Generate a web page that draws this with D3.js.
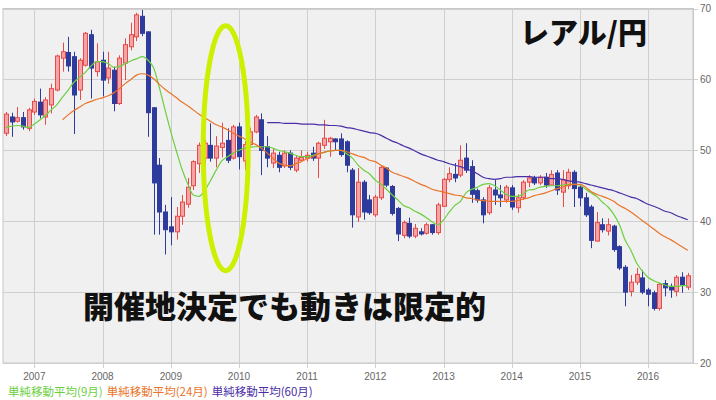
<!DOCTYPE html>
<html><head><meta charset="utf-8">
<script src="https://cdn.jsdelivr.net/npm/d3@7"></script>
<style>body{margin:0;background:#fff}svg{display:block}</style>
</head><body><svg id="c" width="716" height="400"></svg>
<script>
const months = [
"2006-08","2006-09","2006-10","2006-11","2006-12",
"2007-01","2007-02","2007-03","2007-04","2007-05","2007-06","2007-07","2007-08","2007-09","2007-10","2007-11","2007-12",
"2008-01","2008-02","2008-03","2008-04","2008-05","2008-06","2008-07","2008-08","2008-09","2008-10","2008-11","2008-12",
"2009-01","2009-02","2009-03","2009-04","2009-05","2009-06","2009-07","2009-08","2009-09","2009-10","2009-11","2009-12",
"2010-01","2010-02","2010-03","2010-04","2010-05","2010-06","2010-07","2010-08","2010-09","2010-10","2010-11","2010-12",
"2011-01","2011-02","2011-03","2011-04","2011-05","2011-06","2011-07","2011-08","2011-09","2011-10","2011-11","2011-12",
"2012-01","2012-02","2012-03","2012-04","2012-05","2012-06","2012-07","2012-08","2012-09","2012-10","2012-11","2012-12",
"2013-01","2013-02","2013-03","2013-04","2013-05","2013-06","2013-07","2013-08","2013-09","2013-10","2013-11","2013-12",
"2014-01","2014-02","2014-03","2014-04","2014-05","2014-06","2014-07","2014-08","2014-09","2014-10","2014-11","2014-12",
"2015-01","2015-02","2015-03","2015-04","2015-05","2015-06","2015-07","2015-08","2015-09","2015-10","2015-11","2015-12",
"2016-01","2016-02","2016-03","2016-04","2016-05","2016-06","2016-07","2016-08"];

const openV = [52.4,54.7,54.1,54.6,53.1,
55.4,56.8,54.7,56.4,58.5,63.0,63.8,63.2,58.5,62.0,66.3,61.1,
62.7,60.2,61.3,56.6,62.3,64.6,66.0,68.9,66.7,56.0,47.9,41.3,
39.2,38.5,40.7,42.4,45.0,48.1,48.9,50.7,48.9,50.4,51.4,48.9,
53.3,48.5,50.8,52.6,54.3,50.5,48.2,49.3,47.8,49.6,47.2,48.6,
48.9,49.6,48.9,50.7,51.2,51.6,51.6,51.2,47.2,40.6,45.5,43.0,
40.9,43.3,47.5,44.9,41.8,38.0,39.7,37.9,38.5,38.3,39.5,38.4,
42.1,45.9,46.6,46.5,48.9,47.7,44.3,43.0,41.2,44.4,43.7,43.0,
44.7,41.9,43.3,45.5,46.1,45.4,46.2,45.1,46.8,44.1,45.0,46.9,
44.8,43.3,42.0,37.2,39.5,38.6,39.3,36.4,33.5,30.1,31.4,32.0,
30.3,29.9,27.7,31.2,30.8,30.1,32.1,30.7];
const highV = [55.4,55.3,56.1,55.4,56.0,
57.3,58.7,57.5,59.4,63.5,65.2,66.0,63.9,63.0,66.7,67.0,65.1,
63.9,63.9,61.8,63.4,65.8,68.0,69.4,69.8,66.8,56.1,48.9,42.3,
43.4,42.0,43.7,46.1,48.6,51.1,51.5,53.8,52.0,53.9,53.1,53.6,
53.9,51.3,53.2,55.0,55.2,52.0,50.3,49.8,50.0,50.0,49.3,50.0,
49.8,50.5,51.2,54.3,51.9,51.7,52.4,51.4,47.5,47.5,45.8,43.7,
43.7,47.9,47.6,45.1,42.0,40.1,40.5,39.6,39.0,39.8,39.6,42.6,
46.1,47.6,48.2,50.7,51.0,48.6,44.6,43.4,45.1,45.8,45.1,45.1,
45.1,43.8,45.8,46.5,46.4,46.5,46.8,47.2,47.2,47.2,47.4,47.2,
45.0,44.0,42.3,41.3,40.4,40.4,39.5,36.6,33.8,32.4,33.4,33.1,
30.6,30.2,31.2,31.7,31.2,32.4,32.8,32.7];
const lowV = [52.0,51.9,53.9,52.9,52.7,
55.0,54.5,53.6,55.2,58.3,61.1,61.1,52.3,57.1,61.8,57.3,60.4,
57.6,59.4,55.5,56.4,59.9,64.1,65.4,66.1,51.9,38.1,38.1,35.3,
36.6,37.4,39.5,41.9,44.4,46.8,47.6,48.4,47.6,49.0,48.2,48.7,
47.3,47.2,50.3,52.4,46.5,47.6,47.5,46.9,47.5,47.2,46.9,48.4,
48.4,48.5,46.1,50.2,49.1,50.0,49.1,46.9,39.1,39.9,40.2,40.9,
40.6,43.0,44.8,40.8,37.2,37.6,37.6,37.6,38.0,38.1,38.1,38.1,
42.0,45.5,45.5,46.2,46.8,42.6,42.6,39.7,40.9,42.3,42.0,42.6,
41.6,41.2,43.0,44.8,45.1,45.1,44.7,45.0,43.7,42.0,44.5,42.0,
42.1,40.6,36.2,37.1,38.4,38.0,35.7,33.1,28.0,29.4,31.0,29.7,
28.0,27.4,27.4,29.4,29.2,29.4,29.9,30.3];
const closeV = [55.1,54.0,54.6,53.3,55.7,
56.9,55.0,57.1,58.7,63.3,63.9,61.9,57.8,62.7,66.5,61.6,62.5,
59.9,61.6,56.6,63.0,64.9,66.3,69.1,66.5,55.3,45.4,41.3,38.8,
38.5,40.7,42.7,44.8,48.4,50.7,51.0,48.9,50.6,51.0,48.6,53.3,
49.1,50.8,52.6,54.7,50.0,48.9,49.6,47.6,49.6,47.6,48.9,49.0,
49.3,48.9,51.0,51.7,51.7,51.2,49.4,47.9,40.9,45.5,41.3,41.2,
43.4,47.6,45.1,41.1,38.2,39.8,37.9,39.0,38.2,39.5,38.4,42.3,
45.9,46.7,46.1,48.6,47.2,43.8,43.0,40.9,44.7,43.7,43.3,44.8,
42.0,43.3,45.5,46.1,45.4,46.2,45.1,46.6,44.4,45.8,46.9,44.6,
43.3,40.9,37.3,39.8,38.8,39.5,36.0,33.4,30.0,31.4,32.5,30.0,
29.7,27.7,31.1,30.6,30.3,32.1,31.0,32.3];

const ma9 = [53.2,53.4,53.5,53.4,53.2,
53.7,54.3,54.9,55.7,56.4,57.5,58.5,59.6,60.3,61.0,61.9,62.5,
62.5,62.2,61.7,61.8,62.2,62.6,62.9,63.2,62.7,61.6,58.8,55.7,
52.6,49.8,47.4,45.3,43.7,43.5,44.3,45.7,47.2,48.5,49.1,49.6,
50.0,50.3,50.4,50.5,50.5,50.5,50.3,50.0,49.8,49.6,49.3,49.1,
49.1,49.3,49.5,49.7,49.9,50.0,50.0,49.5,48.9,47.9,47.2,46.7,
45.8,45.2,44.5,43.7,43.0,42.2,41.9,41.4,41.0,40.5,39.9,39.5,
40.2,41.3,42.2,42.8,44.0,44.5,44.8,45.2,45.3,45.0,44.4,43.8,
43.5,43.5,43.8,44.4,44.5,44.8,44.9,45.0,45.0,45.1,45.2,45.2,
45.1,44.5,44.0,43.5,42.7,42.0,41.0,39.5,37.3,35.9,34.1,33.0,
32.1,31.6,31.3,31.0,30.8,30.8,30.9,30.9];
const ma24 = [null,null,null,null,null,
null,null,null,null,null,54.3,55.0,55.6,56.1,56.6,56.9,57.2,
57.4,57.7,58.1,58.7,59.4,60.0,60.6,60.8,60.6,60.1,59.3,58.6,
58.0,57.4,56.8,56.3,55.7,55.1,54.6,54.1,53.6,53.3,52.9,52.4,
52.0,51.6,51.2,50.8,50.3,49.6,48.9,48.2,47.9,47.8,48.1,48.4,
48.8,49.1,49.5,49.7,49.9,50.0,50.0,49.8,49.5,49.2,49.0,48.6,
48.4,47.9,47.5,46.9,46.6,46.3,46.0,45.6,45.2,44.9,44.5,44.3,
44.1,43.9,43.7,43.6,43.3,43.2,43.0,42.9,42.8,42.8,42.8,42.8,
42.8,42.9,43.1,43.3,43.6,43.8,44.0,44.3,44.6,44.8,45.1,45.2,
45.2,44.8,44.2,43.8,43.5,43.2,42.8,42.2,41.8,41.3,40.7,40.1,
39.5,38.9,38.3,37.8,37.4,36.9,36.4,35.9];
const ma60 = [null,null,null,null,null,
null,null,null,null,null,null,null,null,null,null,null,null,
null,null,null,null,null,null,null,null,null,null,null,null,
null,null,null,null,null,null,null,null,null,null,null,null,
null,null,null,null,null,53.9,53.9,53.9,53.8,53.8,53.8,53.7,
53.7,53.7,53.6,53.6,53.5,53.5,53.4,53.2,53.1,52.9,52.7,52.5,
52.4,52.1,51.7,51.3,51.0,50.6,50.3,49.9,49.5,49.2,48.9,48.6,
48.4,48.1,47.9,47.7,47.4,47.1,46.7,46.2,46.0,45.9,46.0,46.2,
46.2,46.3,46.3,46.3,46.2,46.2,46.2,46.0,46.0,45.9,45.7,45.6,
45.5,45.3,45.1,44.9,44.7,44.5,44.3,44.0,43.7,43.4,43.2,42.8,
42.4,42.1,41.8,41.4,41.2,40.8,40.5,40.2];

const yearLabels = ["2007","2008","2009","2010","2011","2012","2013","2014","2015","2016"];
const priceTicks = [20,30,40,50,60,70];
const legendLabels = ["単純移動平均(9月)","単純移動平均(24月)","単純移動平均(60月)"];
const titleText = "レアル/円";
const noteText = "開催地決定でも動きは限定的";

const svg = d3.select("#c");
const L = 3, R = 693, T = 8.5, B = 363;
const parseM = d3.timeParse("%Y-%m");
const x = d3.scaleTime().domain([new Date(2006,6,17), new Date(2016,7,29)]).range([L, R]);
const y = d3.scaleLinear().domain([20,70]).range([B, T]);

const data = months.map((m,i)=>({d:parseM(m),o:openV[i],h:highV[i],l:lowV[i],c:closeV[i],m9:ma9[i],m24:ma24[i],m60:ma60[i]}));

// plot background
svg.append("rect").attr("x",L).attr("y",T).attr("width",R-L).attr("height",B-T)
  .attr("fill","#f0f0f0").attr("stroke","#c8c8c8").attr("stroke-width",1);

// grid
const yearDates = yearLabels.map(s=>new Date(+s,0,1));
svg.append("g").selectAll("line").data(yearDates).join("line")
  .attr("x1",d=>Math.round(x(d))+0.5).attr("x2",d=>Math.round(x(d))+0.5)
  .attr("y1",T).attr("y2",B+5).attr("stroke","#cfcfcf").attr("stroke-width",1);
svg.append("g").selectAll("line").data(priceTicks).join("line")
  .attr("x1",L).attr("x2",R+5).attr("y1",d=>Math.round(y(d))+0.5).attr("y2",d=>Math.round(y(d))+0.5)
  .attr("stroke","#cfcfcf").attr("stroke-width",1);
svg.append("line").attr("x1",R+0.5).attr("x2",R+0.5).attr("y1",T).attr("y2",B).attr("stroke","#c8c8c8");

// axes labels
svg.append("g").selectAll("text").data(priceTicks).join("text")
  .attr("x",R+7).attr("y",d=>y(d)+3.5).text(d=>d)
  .attr("font-family","Liberation Sans, Arial, sans-serif").attr("font-size",10).attr("fill","#666");
svg.append("g").selectAll("text").data(yearDates).join("text")
  .attr("x",d=>x(d)).attr("y",380).attr("text-anchor","middle").text((d,i)=>yearLabels[i])
  .attr("font-family","Liberation Sans, Arial, sans-serif").attr("font-size",10).attr("fill","#666");

// candles
const cg = svg.append("g");
const up = "#e84a4a", upFill = "#f4a4a4", dn = "#2d3c9c";
cg.selectAll("line").data(data).join("line")
  .attr("x1",d=>Math.round(x(d.d))+0.5).attr("x2",d=>Math.round(x(d.d))+0.5)
  .attr("y1",d=>y(d.h)).attr("y2",d=>y(d.l))
  .attr("stroke",d=>d.c>=d.o?up:dn).attr("stroke-width",1);
cg.selectAll("rect").data(data).join("rect")
  .attr("x",d=>Math.round(x(d.d))-1.5).attr("width",4)
  .attr("y",d=>y(Math.max(d.o,d.c))).attr("height",d=>Math.max(1,Math.abs(y(d.o)-y(d.c))))
  .attr("fill",d=>d.c>=d.o?upFill:dn).attr("stroke",d=>d.c>=d.o?up:dn).attr("stroke-width",1);

// moving averages
const maDefs = [["m9","#6ccf40"],["m24","#ea742a"],["m60","#4a2ea6"]];
maDefs.forEach(([k,col])=>{
  const line = d3.line().defined(d=>d[k]!=null).x(d=>x(d.d)).y(d=>y(d[k])).curve(d3.curveMonotoneX);
  svg.append("path").datum(data).attr("d",line).attr("fill","none").attr("stroke",col).attr("stroke-width",1.2);
});

// legend
let lx = 8;
legendLabels.forEach((t,i)=>{
  const tx = svg.append("text").attr("x",lx).attr("y",396).text(t)
    .attr("font-family","Noto Sans CJK JP, sans-serif").attr("font-size",11.5).attr("fill",maDefs[i][1]);
  lx += tx.node().getComputedTextLength() + 4;
});

// ellipse annotation
svg.append("ellipse").attr("cx",x(new Date(2009,9,22))).attr("cy",y(50.3))
  .attr("rx",22.5).attr("ry",122.5).attr("fill","none").attr("stroke","#ccf000").attr("stroke-width",5);

// title and note
svg.append("text").attr("x",520).attr("y",44).text(titleText)
  .attr("font-family","Noto Sans CJK JP, sans-serif").attr("font-weight",900).attr("font-size",29).attr("fill","#111");
svg.append("text").attr("x",83).attr("y",318).text(noteText)
  .attr("font-family","Noto Sans CJK JP, sans-serif").attr("font-weight",900).attr("font-size",31).attr("fill","#111");
</script></body></html>
